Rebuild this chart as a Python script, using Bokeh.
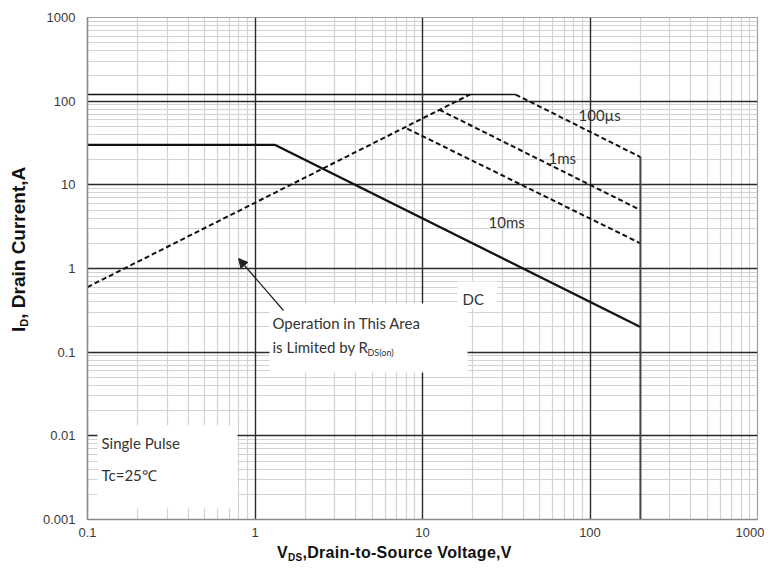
from bokeh.plotting import figure
from bokeh.models import FixedTicker, Grid, Label, Arrow, NormalHead, Div
from bokeh.layouts import row, column
from bokeh.embed import file_html
from bokeh.resources import INLINE

# ---- data ----
x_ticks = [0.1, 1, 10, 100, 1000]
x_tick_labels = ["0.1", "1", "10", "100", "1000"]
y_ticks = [0.001, 0.01, 0.1, 1, 10, 100, 1000]
y_tick_labels = ["0.001", "0.01", "0.1", "1", "10", "100", "1000"]
minor_mult = [2, 3, 4, 5, 6, 7, 8, 9]

rds_v = [0.1, 19.2]          # R_DS(on) limit (dashed)
rds_i = [0.6, 120]
lim_v = [0.1, 36]            # pulsed current limit (solid)
lim_i = [120, 120]
us100_v = [36, 200]          # 100us
us100_i = [120, 21.5]
ms1_v = [12.6, 200]          # 1ms
ms1_i = [79, 5]
ms10_v = [8.1, 200]          # 10ms
ms10_i = [47, 2]
dc_v = [0.1, 1.32, 200]      # DC
dc_i = [30, 30, 0.2]
bv_v = [200, 200]            # BVDSS limit
bv_i = [21.5, 0.001]

# ---- pixel helpers (page coordinates -> data) ----
def X(px):
    return 10 ** (-1 + (px - 87) / 167.5)

def Y(py):
    return 10 ** (3 - (py - 17) / 83.667)

p = figure(width=734, height=544, x_axis_type="log", y_axis_type="log",
           x_range=(0.1, 1000), y_range=(0.001, 1000),
           output_backend="svg", toolbar_location=None,
           min_border_left=57, min_border_right=7, min_border_top=17, min_border_bottom=25)
p.background_fill_color = "white"
p.border_fill_color = "white"
p.outline_line_color = "#a0a0a0"
p.outline_line_width = 1.2

x_minor = [m * t for t in x_ticks[:-1] for m in minor_mult]
y_minor = [m * t for t in y_ticks[:-1] for m in minor_mult]
p.xaxis.ticker = FixedTicker(ticks=x_ticks, minor_ticks=x_minor)
p.yaxis.ticker = FixedTicker(ticks=y_ticks, minor_ticks=y_minor)
p.xaxis.major_label_overrides = {t: s for t, s in zip(x_ticks, x_tick_labels)}
p.yaxis.major_label_overrides = {t: s for t, s in zip(y_ticks, y_tick_labels)}

for ax in (p.xaxis, p.yaxis):
    ax.major_tick_line_color = None
    ax.minor_tick_line_color = None
    ax.major_tick_out = 0
    ax.major_tick_in = 0
    ax.minor_tick_out = 0
    ax.minor_tick_in = 0
    ax.axis_line_color = "#8a8a8a"
    ax.axis_line_width = 1.5
    ax.major_label_text_font = "Liberation Sans"
    ax.major_label_text_font_size = "13px"
    ax.major_label_text_color = "#3a3a3a"
p.xaxis.major_label_standoff = 8
p.yaxis.major_label_standoff = 12

for g in (p.xgrid, p.ygrid):
    g.grid_line_color = None
    g.minor_grid_line_color = "#d2d2d2"
    g.minor_grid_line_width = 1.2

p.add_layout(Grid(dimension=0, ticker=FixedTicker(ticks=x_ticks[1:-1]),
                  grid_line_color="#2a2a2a", grid_line_width=1.4))
p.add_layout(Grid(dimension=1, ticker=FixedTicker(ticks=y_ticks[1:-1]),
                  grid_line_color="#2a2a2a", grid_line_width=1.4))

# white boxes behind annotations
p.quad(left=[X(269), X(457), X(97)], right=[X(467), X(497), X(237)],
       top=[Y(303), Y(281), Y(425)], bottom=[Y(372), Y(308), Y(508)],
       fill_color="white", line_color=None)

# curves
p.line(lim_v, lim_i, line_color="#111111", line_width=1.6)
p.line(rds_v, rds_i, line_color="#111111", line_width=2, line_dash="5 3")
p.line(us100_v, us100_i, line_color="#111111", line_width=2, line_dash="5 3")
p.line(ms1_v, ms1_i, line_color="#111111", line_width=2, line_dash="5 3")
p.line(ms10_v, ms10_i, line_color="#111111", line_width=2, line_dash="5 3")
p.line(dc_v, dc_i, line_color="#111111", line_width=2.3)
p.line(bv_v, bv_i, line_color="#444444", line_width=2)

# arrow
p.add_layout(Arrow(end=NormalHead(size=9, fill_color="#222222", line_color="#222222"),
                   x_start=X(283), y_start=Y(310), x_end=X(238), y_end=Y(258),
                   line_color="#222222", line_width=1.2))

txt = dict(text_font="Lato", text_font_size="15px", text_color="#333333",
           text_baseline="middle", text_align="left")
for px, py, s in [(578, 115, "100µs"), (548, 158, "1ms"), (488, 222, "10ms"),
                  (462, 299, "DC"), (272, 323, "Operation in This Area"),
                  (272, 347, "is Limited by R"), (101, 443, "Single Pulse"),
                  (101, 475, "Tc=25℃")]:
    p.add_layout(Label(x=X(px), y=Y(py), text=s, **txt))
p.add_layout(Label(x=X(367), y=Y(352), text="DS(on)", text_font="Lato",
                   text_font_size="9px", text_color="#333333",
                   text_baseline="middle", text_align="left"))

# axis titles (with subscripts) as HTML text next to the figure
ytitle = Div(text=('<div style="white-space:nowrap;font-family:\'Liberation Sans\';font-weight:bold;'
                   'font-size:19px;line-height:19px;color:#111;width:max-content;'
                   'transform-origin:0 0;transform:translate(9px,332px) rotate(-90deg);">'
                   'I<span style="font-size:11px;position:relative;top:3px;">D</span>'
                   ', Drain Current,A</div>'),
             width=30, height=544, margin=0)
xtitle = Div(text=('<div style="white-space:nowrap;font-family:\'Liberation Sans\';font-weight:bold;'
                   'font-size:16px;line-height:16px;color:#111;padding-left:277px;padding-top:1px;'
                   'letter-spacing:0.3px;">'
                   'V<span style="font-size:10px;position:relative;top:3px;">DS</span>'
                   ',Drain-to-Source Voltage,V</div>'),
             width=764, height=35, margin=0)

layout = column(row(ytitle, p, spacing=0), xtitle, spacing=0)
open("out.html", "w").write(file_html(layout, INLINE))
